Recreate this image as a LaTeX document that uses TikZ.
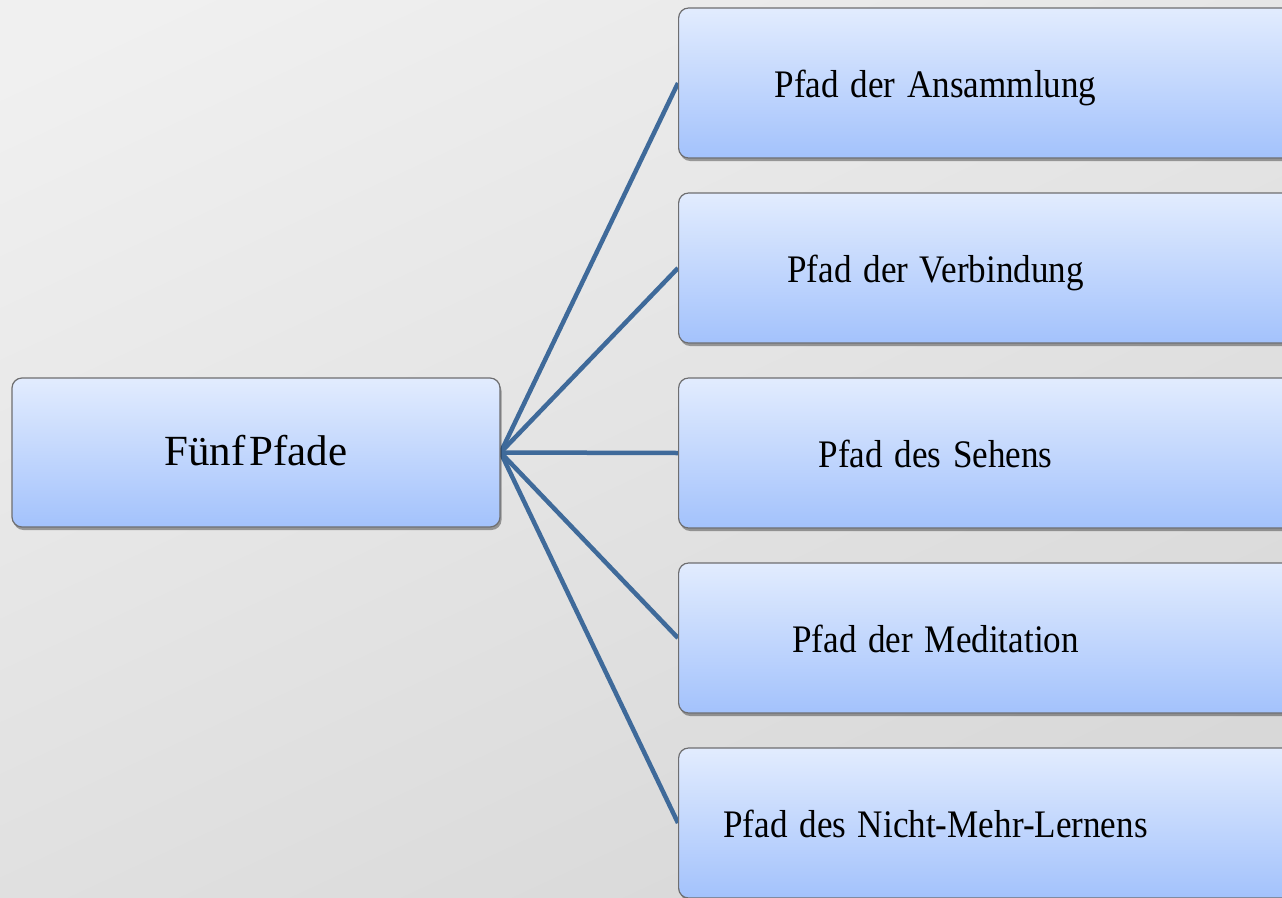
\documentclass[tikz,border=0pt]{standalone}
\usepackage{fontspec}
\setmainfont{Liberation Serif}
\usetikzlibrary{shadows}
\pgfdeclarelayer{bg}
\pgfdeclarelayer{background}
\pgfsetlayers{bg,background,main}
\definecolor{bgtop}{HTML}{F0F0F0}
\definecolor{bgbot}{HTML}{D6D6D6}
\definecolor{boxtop}{HTML}{E2ECFE}
\definecolor{boxbot}{HTML}{A3C2FC}
\definecolor{boxline}{HTML}{6E6E70}
\definecolor{conncol}{HTML}{3F6A9A}
\newcommand{\rtext}[1]{\makebox[514pt]{\scalebox{0.9}[1]{#1}}}
\tikzset{
  box/.style={draw=boxline, line width=1.2pt, rounded corners=10pt,
    top color=boxtop, bottom color=boxbot,
    drop shadow={shadow xshift=1.5pt, shadow yshift=-3pt, opacity=0.35, fill=black}},
  lbox/.style={box, minimum width=488pt, minimum height=149pt, inner sep=0pt,
    text height=25pt, text depth=0pt,
    font=\fontsize{43}{48}\selectfont},
  rbox/.style={box, text width=720pt, align=left, inner xsep=0pt, inner ysep=0pt,
    text height=32pt, text depth=4pt,
    minimum height=150pt, anchor=west, font=\fontsize{39}{44}\selectfont},
  conn/.style={draw=conncol, line width=4.5pt},
}
\begin{document}
\begin{tikzpicture}[x=1pt,y=-1pt]
\useasboundingbox (0,0) rectangle (1282,897);
\clip (0,0) rectangle (1282,897);
\begin{pgfonlayer}{bg}
\shade[top color=bgtop, bottom color=bgbot, shading angle=25] (-100,-100) rectangle (1382,997);
\end{pgfonlayer}
\node[lbox] (c) at (256,452.5) {Fünf\hspace{4pt}Pfade};
\node[rbox] (p1) at (678,83)  {\rtext{Pfad der Ansammlung}};
\node[rbox] (p2) at (678,268) {\rtext{Pfad der Verbindung}};
\node[rbox] (p3) at (678,453) {\rtext{Pfad des Sehens}};
\node[rbox] (p4) at (678,638) {\rtext{Pfad der Meditation}};
\node[rbox] (p5) at (678,823) {\rtext{Pfad des Nicht-Mehr-Lernens}};
\begin{pgfonlayer}{background}
\foreach \i in {1,...,5}{\draw[conn] (c.east) -- (p\i.west);}
\end{pgfonlayer}
\end{tikzpicture}
\end{document}
